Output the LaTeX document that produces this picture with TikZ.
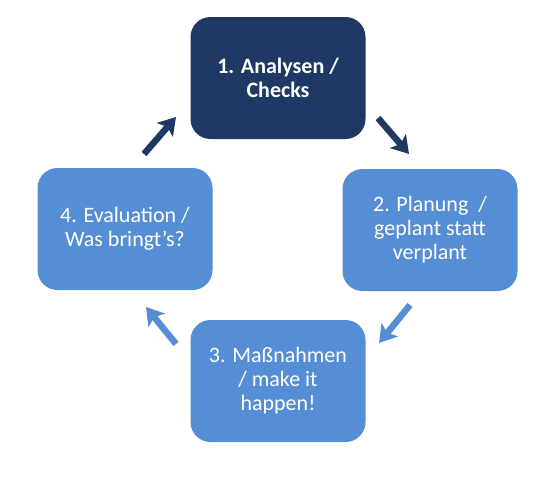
\documentclass[tikz,border=0pt]{standalone}
\usepackage{fontspec}
\setmainfont{Carlito}
\usetikzlibrary{arrows.meta}
\definecolor{navy}{HTML}{1F3864}
\definecolor{lblue}{HTML}{558ED5}
\tikzset{
  box/.style={rounded corners=20pt, minimum width=175pt, minimum height=122pt, align=center, text=white, font=\fontsize{22}{24}\selectfont, inner sep=0pt},
  darkbox/.style={box, fill=navy, font=\fontsize{22}{24.5}\selectfont\bfseries},
  lightbox/.style={box, fill=lblue},
  arr/.style={line width=6.5pt, -{Stealth[length=17pt, width=21pt, inset=4pt]}},
}
\begin{document}
\begin{tikzpicture}[x=1pt, y=-1pt]
\useasboundingbox (0,0) rectangle (559,480);
\node[darkbox] (n1) at (278,78) {1. Analysen /\\Checks};
\node[lightbox] (n2) at (430,230) {2. Planung~~/\\geplant statt\\verplant};
\node[lightbox] (n3) at (278,381) {3. Maßnahmen\\/ make it\\happen!};
\node[lightbox] (n4) at (125,229) {4. Evaluation /\\Was bringt’s?};
\coordinate (a1s) at (378,118); \coordinate (a1e) at (409,154);
\coordinate (a2s) at (410,305); \coordinate (a2e) at (379,343);
\coordinate (a3s) at (176,344); \coordinate (a3e) at (146,307);
\coordinate (a4s) at (144,154); \coordinate (a4e) at (176,117);
\draw[arr, navy] (a1s) -- (a1e);
\draw[arr, lblue] (a2s) -- (a2e);
\draw[arr, lblue] (a3s) -- (a3e);
\draw[arr, navy] (a4s) -- (a4e);
\end{tikzpicture}
\end{document}
